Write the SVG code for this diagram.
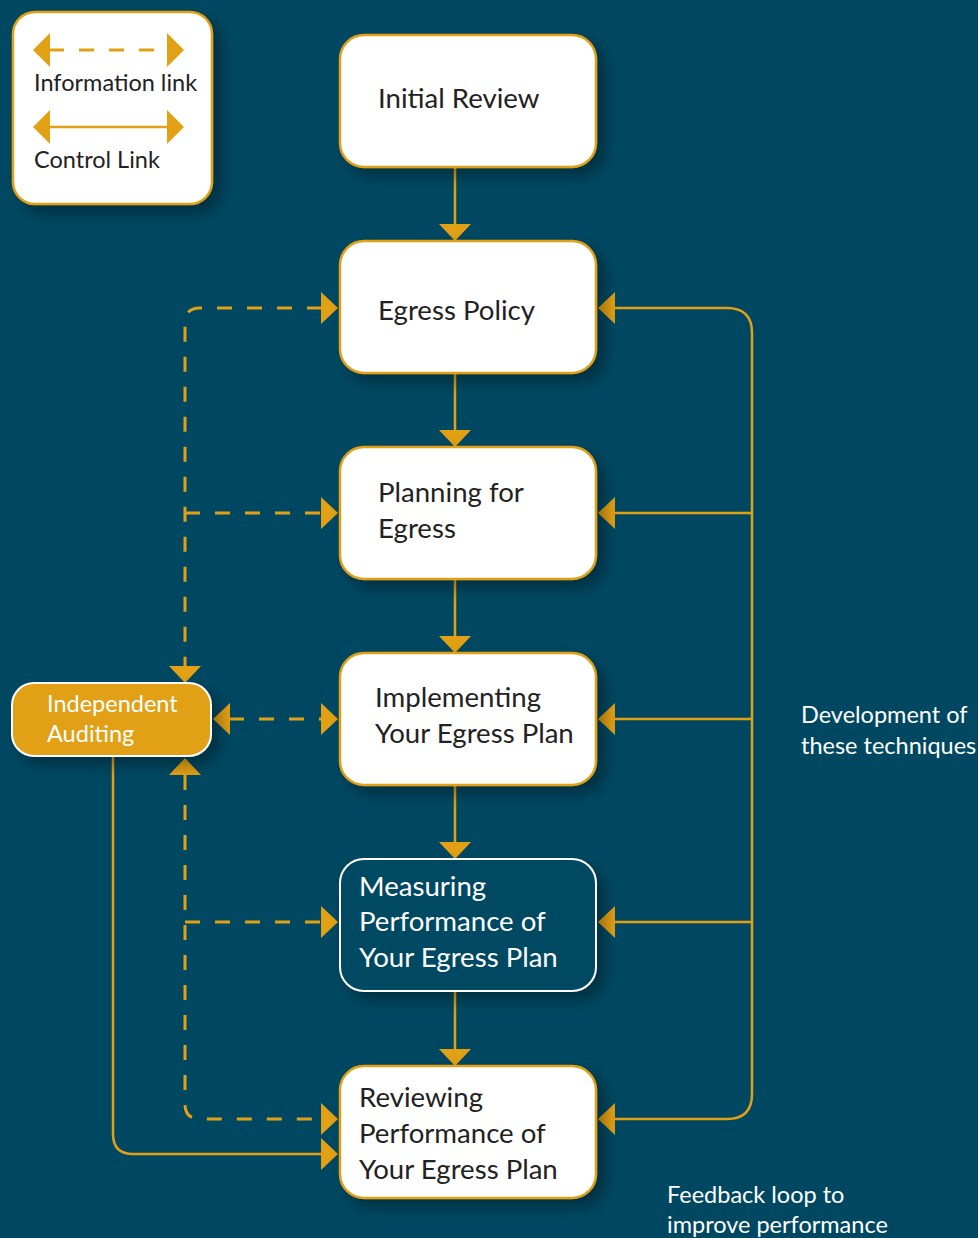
<svg xmlns="http://www.w3.org/2000/svg" width="978" height="1238" viewBox="0 0 978 1238">
<defs>
<style>
.box{fill:#ffffff;stroke:#e2a015;stroke-width:2.5}
.t{font-family:Lato,"Open Sans","Noto Sans",sans-serif;font-size:27.6px;fill:#222222}
.tw{font-family:Lato,"Open Sans","Noto Sans",sans-serif;font-size:27.6px;fill:#ffffff}
.lg{font-family:Lato,"Open Sans","Noto Sans",sans-serif;font-size:23.5px;fill:#222222}
.note{font-family:Lato,"Open Sans","Noto Sans",sans-serif;font-size:23.5px;fill:#ffffff}
.solid{fill:none;stroke:#e2a015;stroke-width:2.5}
.dash{fill:none;stroke:#e2a015;stroke-width:3;stroke-dasharray:15 15}
.ah{fill:#e2a015}
</style>
<filter id="sh" x="-20%" y="-20%" width="150%" height="150%">
<feGaussianBlur in="SourceAlpha" stdDeviation="8"/>
<feOffset dx="8" dy="8" result="b"/>
<feComponentTransfer><feFuncA type="linear" slope="0.35"/></feComponentTransfer>
<feMerge><feMergeNode/><feMergeNode in="SourceGraphic"/></feMerge>
</filter>
</defs>
<rect x="0" y="0" width="978" height="1238" fill="#004862"/>

<g id="connectors">
<!-- center down arrows -->
<line class="solid" x1="455" y1="167" x2="455" y2="226"/>
<polygon class="ah" points="439,224 471,224 455,241"/>
<line class="solid" x1="455" y1="373" x2="455" y2="432"/>
<polygon class="ah" points="439,430 471,430 455,447"/>
<line class="solid" x1="455" y1="579" x2="455" y2="638"/>
<polygon class="ah" points="439,636 471,636 455,653"/>
<line class="solid" x1="455" y1="785" x2="455" y2="844"/>
<polygon class="ah" points="439,842 471,842 455,859"/>
<line class="solid" x1="455" y1="991" x2="455" y2="1051"/>
<polygon class="ah" points="439,1049 471,1049 455,1066"/>

<!-- right feedback loop -->
<path class="solid" d="M614,308 H727 Q752,308 752,333 V1094 Q752,1119 727,1119 H614"/>
<line class="solid" x1="614" y1="513" x2="752" y2="513"/>
<line class="solid" x1="614" y1="719" x2="752" y2="719"/>
<line class="solid" x1="614" y1="922" x2="752" y2="922"/>
<polygon class="ah" points="598,308 615,292 615,324"/>
<polygon class="ah" points="598,513 615,497 615,529"/>
<polygon class="ah" points="598,719 615,703 615,735"/>
<polygon class="ah" points="598,922 615,906 615,938"/>
<polygon class="ah" points="598,1119 615,1103 615,1135"/>

<!-- left dashed information links -->
<path class="dash" d="M322,308 H200 Q185,308 185,323 V667"/>
<line class="dash" x1="185" y1="513" x2="322" y2="513"/>
<line class="dash" x1="229" y1="719" x2="322" y2="719"/>
<path class="dash" d="M185,775 V1104 Q185,1119 200,1119 H322"/>
<line class="dash" x1="185" y1="922" x2="322" y2="922"/>
<polygon class="ah" points="338,308 321,292 321,324"/>
<polygon class="ah" points="338,513 321,497 321,529"/>
<polygon class="ah" points="338,719 321,703 321,735"/>
<polygon class="ah" points="338,922 321,906 321,938"/>
<polygon class="ah" points="338,1119 321,1103 321,1135"/>
<polygon class="ah" points="169,666 201,666 185,683"/>
<polygon class="ah" points="169,775 201,775 185,758"/>
<polygon class="ah" points="213,719 230,703 230,735"/>

<!-- audit control link -->
<path class="solid" d="M113,757 V1134 Q113,1154 133,1154 H322"/>
<polygon class="ah" points="338,1154 321,1138 321,1170"/>
</g>

<g id="legend">
<rect x="13" y="12" width="199" height="192" rx="22" class="box" filter="url(#sh)"/>
<line class="dash" x1="49" y1="50" x2="168" y2="50" stroke-dasharray="14 16"/>
<polygon class="ah" points="33,50 50,33 50,67"/>
<polygon class="ah" points="184,50 167,33 167,67"/>
<text class="lg" x="34" y="91">Information link</text>
<line class="solid" x1="49" y1="127" x2="168" y2="127" stroke-width="3"/>
<polygon class="ah" points="33,127 50,110 50,144"/>
<polygon class="ah" points="184,127 167,110 167,144"/>
<text class="lg" x="34" y="168">Control Link</text>
</g>

<g id="initial-review">
<rect x="340" y="35" width="256" height="132" rx="24" class="box" filter="url(#sh)"/>
<text class="t" x="378" y="108">Initial Review</text>
</g>

<g id="egress-policy">
<rect x="340" y="241" width="256" height="132" rx="24" class="box" filter="url(#sh)"/>
<text class="t" x="378" y="320">Egress Policy</text>
</g>

<g id="planning">
<rect x="340" y="447" width="256" height="132" rx="24" class="box" filter="url(#sh)"/>
<text class="t" x="378" y="502">Planning for</text>
<text class="t" x="378" y="538">Egress</text>
</g>

<g id="implementing">
<rect x="340" y="653" width="256" height="132" rx="24" class="box" filter="url(#sh)"/>
<text class="t" x="375" y="707">Implementing</text>
<text class="t" x="375" y="743">Your Egress Plan</text>
</g>

<g id="measuring">
<rect x="340" y="859" width="256" height="132" rx="24" fill="#004862" stroke="#ffffff" stroke-width="2" filter="url(#sh)"/>
<text class="tw" x="359" y="896">Measuring</text>
<text class="tw" x="359" y="931">Performance of</text>
<text class="tw" x="359" y="967">Your Egress Plan</text>
</g>

<g id="reviewing">
<rect x="340" y="1066" width="256" height="132" rx="24" class="box" filter="url(#sh)"/>
<text class="t" x="359" y="1107">Reviewing</text>
<text class="t" x="359" y="1143">Performance of</text>
<text class="t" x="359" y="1179">Your Egress Plan</text>
</g>

<g id="independent-auditing">
<rect x="12" y="683" width="199" height="73" rx="22" fill="#e2a015" stroke="#ffffff" stroke-width="2" filter="url(#sh)"/>
<text class="note" x="47" y="712">Independent</text>
<text class="note" x="47" y="742">Auditing</text>
</g>

<g id="notes">
<text class="note" x="801" y="723">Development of</text>
<text class="note" x="801" y="754">these techniques</text>
<text class="note" x="667" y="1203">Feedback loop to</text>
<text class="note" x="667" y="1233">improve performance</text>
</g>
</svg>
